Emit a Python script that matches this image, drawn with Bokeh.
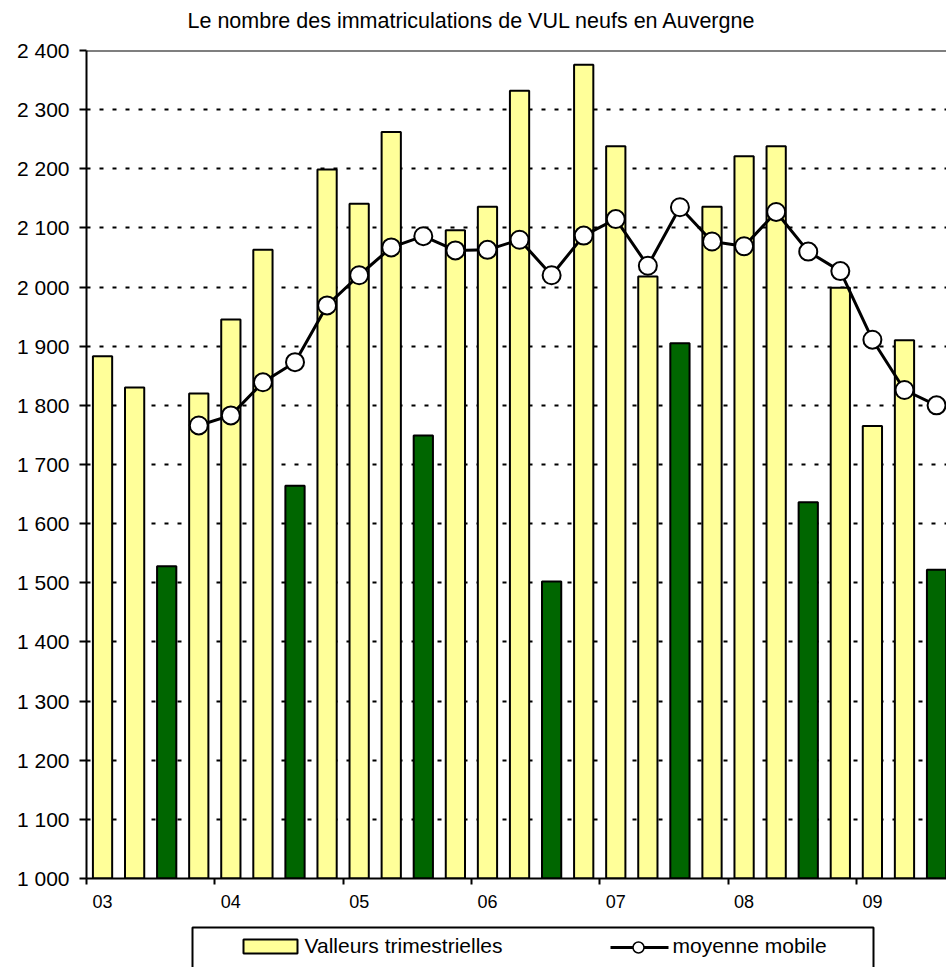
from bokeh.plotting import figure
from bokeh.models import Range1d, FixedTicker, Span, ColumnDataSource
from bokeh.layouts import column
from bokeh.embed import file_html
from bokeh.resources import INLINE
from bokeh.core.properties import value

# ---------------- data ----------------
title_text = "Le nombre des immatriculations de VUL neufs en Auvergne"
year_labels = ["03", "04", "05", "06", "07", "08", "09"]
# quarterly values, 2003 T1 ... 2009 T3
quarterly_values = [1883, 1830, 1528, 1820,
                    1945, 2063, 1664, 2199,
                    2141, 2262, 1749, 2096,
                    2136, 2332, 1502, 2376,
                    2238, 2018, 1905, 2136,
                    2221, 2238, 1636, 1999,
                    1765, 1910, 1522]
# moving average (starts at 2003 T4)
moving_average = [1766, 1783, 1839, 1873,
                  1969, 2020, 2067, 2086,
                  2062, 2063, 2080, 2020,
                  2087, 2115, 2036, 2135,
                  2077, 2069, 2127, 2060,
                  2027, 1911, 1826, 1800]
ma_start = 3
y_ticks = list(range(1000, 2401, 100))
legend_labels = ["Valleurs trimestrielles", "moyenne mobile"]

# ---------------- styles ----------------
FONT = "Liberation Sans"
YELLOW = "#FFFF99"
GREEN = "#006600"
W = 946
FRAME_LEFT = 86


def strip(height):
    """A frameless strip whose data coordinates are page pixels."""
    f = figure(width=W, height=height, x_range=Range1d(FRAME_LEFT, W),
               y_range=Range1d(height, 0), output_backend="svg",
               toolbar_location=None, min_border=0, min_border_left=FRAME_LEFT,
               x_axis_location=None, y_axis_location=None,
               outline_line_color=None, background_fill_color="white",
               border_fill_color="white")
    f.grid.visible = False
    return f


# ---------------- title strip ----------------
TH = 36
tf = strip(TH)
tf.text(x=[187], y=[20], text=[title_text], text_font=value(FONT),
        text_font_size="21.5px", text_baseline="alphabetic", text_color="black")

# ---------------- main chart ----------------
n = len(quarterly_values)
xs = list(range(n))
colors = [GREEN if i % 4 == 2 else YELLOW for i in xs]
bar_src = ColumnDataSource(dict(x=xs, top=quarterly_values, color=colors))
ma_x = list(range(ma_start, ma_start + len(moving_average)))
ma_src = ColumnDataSource(dict(x=ma_x, y=moving_average))

p = figure(width=W, height=912 - TH,
           x_range=Range1d(-0.5, 26.31), y_range=Range1d(y_ticks[0], y_ticks[-1]),
           output_backend="svg", toolbar_location=None,
           min_border_left=FRAME_LEFT, min_border_right=0, min_border_top=50 - TH,
           min_border_bottom=34,
           background_fill_color="white", border_fill_color="white",
           outline_line_color=None)

# y axis
p.yaxis.ticker = FixedTicker(ticks=y_ticks, minor_ticks=[])
p.yaxis.major_label_overrides = {t: f"{t:,}".replace(",", " ") for t in y_ticks}
p.yaxis.major_label_text_font = FONT
p.yaxis.major_label_text_font_size = "21px"
p.yaxis.major_label_text_color = "black"
p.yaxis.axis_line_width = 2
p.yaxis.axis_line_color = "black"
p.yaxis.major_tick_out = 7
p.yaxis.major_tick_in = 0
p.yaxis.major_tick_line_width = 2
p.yaxis.major_label_standoff = 10

# x axis: labels at first quarter of each year, ticks at year boundaries
label_pos = [4 * k for k in range(len(year_labels))]
p.xaxis.ticker = FixedTicker(ticks=label_pos, minor_ticks=[q - 0.5 for q in label_pos])
p.xaxis.major_label_overrides = {q: lab for q, lab in zip(label_pos, year_labels)}
p.xaxis.major_label_text_font = FONT
p.xaxis.major_label_text_font_size = "18px"
p.xaxis.major_label_text_color = "black"
p.xaxis.axis_line_width = 2
p.xaxis.axis_line_color = "black"
p.xaxis.major_tick_out = 0
p.xaxis.major_tick_in = 0
p.xaxis.minor_tick_out = 6
p.xaxis.minor_tick_in = 0
p.xaxis.minor_tick_line_width = 2
p.xaxis.minor_tick_line_color = "black"
p.xaxis.major_label_standoff = 10

p.xgrid.visible = False
p.ygrid.grid_line_color = "black"
p.ygrid.grid_line_dash = "4 9"
p.ygrid.grid_line_width = 2

p.add_layout(Span(location=y_ticks[-1], dimension="width", line_color="black", line_width=2))

p.vbar(x="x", top="top", bottom=y_ticks[0], width=0.6, fill_color="color",
       line_color="black", line_width=2, source=bar_src)
p.line(x="x", y="y", line_color="black", line_width=3, source=ma_src)
p.scatter(x="x", y="y", size=18, fill_color="white", line_color="black",
          line_width=2, source=ma_src)

# ---------------- legend strip ----------------
LH = 55
lf = strip(LH)
lf.quad(left=[192], right=[873], top=[15], bottom=[80], fill_color=None,
        line_color="black", line_width=2)
lf.quad(left=[243], right=[297], top=[27], bottom=[41], fill_color=YELLOW,
        line_color="black", line_width=2)
lf.text(x=[304], y=[33], text=[legend_labels[0]], text_font=value(FONT),
        text_font_size="21px", text_baseline="alphabetic", text_color="black")
lf.line(x=[610, 668], y=[35, 35], line_color="black", line_width=3)
lf.scatter(x=[638], y=[35], size=11, fill_color="white", line_color="black", line_width=1.5)
lf.text(x=[672], y=[33], text=[legend_labels[1]], text_font=value(FONT),
        text_font_size="21px", text_baseline="alphabetic", text_color="black")

layout = column(tf, p, lf, spacing=0)
open("out.html", "w").write(file_html(layout, INLINE))
